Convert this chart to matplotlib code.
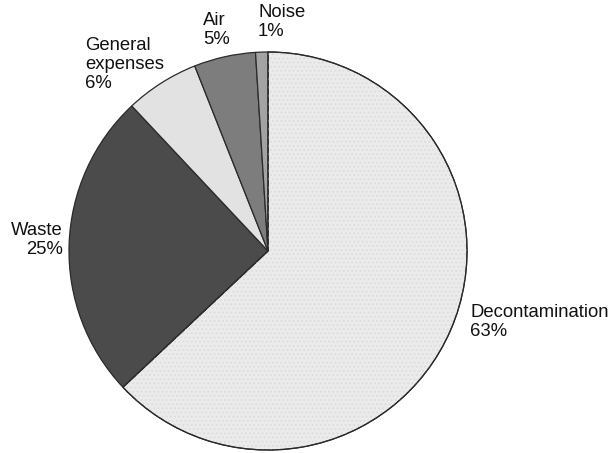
import matplotlib
matplotlib.use("Agg")
import matplotlib.pyplot as plt
from matplotlib.patches import Wedge

plt.rcParams['font.family'] = ['Liberation Sans', 'DejaVu Sans']
plt.rcParams['hatch.linewidth'] = 0.8

categories = ["Decontamination", "Waste", "General\nexpenses", "Air", "Noise"]
values = [63, 25, 6, 5, 1]
colors = ["#ebebeb", "#4b4b4b", "#e2e2e2", "#7d7d7d", "#a3a3a3"]

W, H = 612, 453
fig = plt.figure(figsize=(W / 100, H / 100), dpi=100)
ax = fig.add_axes([0, 0, 1, 1])

cx, cy, r = 268, H - 251, 199
wedges, _ = ax.pie(values, colors=colors, startangle=90, counterclock=False,
                   center=(cx, cy), radius=r, frame=True,
                   wedgeprops=dict(edgecolor="#2a2a2a", linewidth=0.9))
ax.set_xlim(0, W)
ax.set_ylim(0, H)
ax.axis('off')

# subtle dotted texture on the largest slice
w0 = wedges[0]
tex = Wedge(w0.center, w0.r, w0.theta1, w0.theta2, facecolor='none',
            edgecolor='#dcdcdc', linewidth=0, hatch='....', zorder=w0.get_zorder() + 0.1)
ax.add_patch(tex)
edge = Wedge(w0.center, w0.r, w0.theta1, w0.theta2, facecolor='none',
             edgecolor='#2a2a2a', linewidth=0.9, zorder=w0.get_zorder() + 0.2)
ax.add_patch(edge)

fs = 13.3
label_pos = [(470, 304, 'left'), (63, 222, 'right'), (85, 37, 'left'),
             (203, 12, 'left'), (258, 4, 'left')]
for cat, v, (x, y, ha) in zip(categories, values, label_pos):
    ax.text(x, H - y, f"{cat}\n{v}%", ha=ha, va='top', multialignment=ha,
            fontsize=fs, linespacing=1.15, color="#111111")

fig.savefig("out.png", dpi=100)
